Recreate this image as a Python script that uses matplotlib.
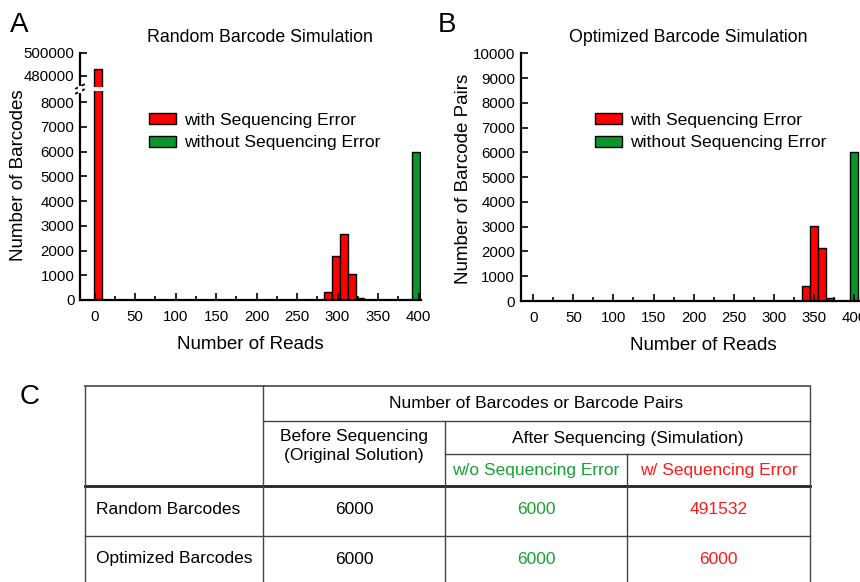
import numpy as np
import matplotlib
matplotlib.use("Agg")
import matplotlib.pyplot as plt

plt.rcParams['font.family'] = ['Liberation Sans', 'DejaVu Sans']

# ---- data ----
bin_w = 10
a_err_left = [-1, 283, 293, 303, 313, 323]
a_err_vals = [485532, 330, 1780, 2680, 1050, 90]
a_ok_left = [392]
a_ok_vals = [6000]

b_err_left = [335, 345, 355, 365]
b_err_vals = [605, 3030, 2140, 140]
b_ok_left = [395]
b_ok_vals = [6000]

row_names = ["Random Barcodes", "Optimized Barcodes"]
before_seq = [6000, 6000]
after_wo_err = [6000, 6000]
after_w_err = [491532, 6000]

RED = "#ff0000"
GREEN = "#0a952a"
W, H = 860, 582


def fx(px):
    return px / W


def fy(py):
    return 1 - py / H


def style_ax(ax, lw=1.6):
    for s in ["top", "right"]:
        ax.spines[s].set_visible(False)
    for s in ["left", "bottom"]:
        ax.spines[s].set_linewidth(lw)
    ax.tick_params(axis="both", direction="in", labelsize=10.8, width=1.2,
                   length=5, pad=4)
    ax.tick_params(axis="x", which="both", pad=7)
    ax.tick_params(axis="x", which="minor", direction="in", length=3, width=1.2)


fig = plt.figure(figsize=(W / 100, H / 100), dpi=100)

# ---------- panel A (broken y axis) ----------
axA = fig.add_axes([fx(80), fy(300), fx(421 - 80), (300 - 91) / H])
axA_top = fig.add_axes([fx(80), fy(87), fx(421 - 80), (87 - 53) / H])

for ax in (axA, axA_top):
    ax.bar(a_err_left, a_err_vals, width=bin_w, align="edge", color=RED,
           edgecolor="black", linewidth=1, label="with Sequencing Error")
    ax.bar(a_ok_left, a_ok_vals, width=bin_w, align="edge", color=GREEN,
           edgecolor="black", linewidth=1, label="without Sequencing Error")
    ax.set_xlim(-18, 403)
    style_ax(ax)

axA.set_ylim(0, 8450)
axA.set_yticks(np.arange(0, 8001, 1000))
axA.set_xticks(np.arange(0, 401, 50))
axA.set_xticks(np.arange(25, 401, 50), minor=True)

axA_top.set_ylim(470000, 500000)
axA_top.set_yticks([480000, 500000])
axA_top.spines["bottom"].set_visible(False)
axA_top.set_xticks([])
axA_top.tick_params(axis="x", which="both", bottom=False, labelbottom=False)

# break marks on the y axis
for yy in (86.5, 91.5):
    fig.add_artist(plt.Line2D([fx(76), fx(84)], [fy(yy + 2), fy(yy - 2)],
                              color="black", lw=1.3))
fig.add_artist(plt.Line2D([fx(80), fx(80)], [fy(87.5), fy(90.5)],
                          color="white", lw=3))

axA.set_xlabel("Number of Reads", fontsize=13.5, labelpad=9)
fig.text(fx(19), fy(175), "Number of Barcodes", rotation=90, fontsize=13.5,
         ha="center", va="center")
fig.text(fx(260), fy(38), "Random Barcode Simulation", fontsize=12.8,
         ha="center", va="center")
fig.text(fx(10), fy(25), "A", fontsize=20, ha="left", va="center")
axA.legend(loc="upper left", bbox_to_anchor=(fx(149), fy(113)),
           bbox_transform=fig.transFigure, frameon=False, fontsize=12.6,
           handlelength=1.55, handleheight=0.6, handletextpad=0.45,
           labelspacing=0.42, borderpad=0, borderaxespad=0)

# ---------- panel B ----------
axB = fig.add_axes([fx(520.7), fy(301), fx(886 - 520.7), (301 - 53.3) / H])
axB.bar(b_err_left, b_err_vals, width=bin_w, align="edge", color=RED,
        edgecolor="black", linewidth=1, label="with Sequencing Error")
axB.bar(b_ok_left, b_ok_vals, width=bin_w, align="edge", color=GREEN,
        edgecolor="black", linewidth=1, label="without Sequencing Error")
axB.set_xlim(-15.7, 440)
axB.set_ylim(0, 10000)
axB.set_yticks(np.arange(0, 10001, 1000))
axB.set_xticks(np.arange(0, 401, 50))
axB.set_xticks(np.arange(25, 401, 50), minor=True)
style_ax(axB)
axB.set_xlabel("Number of Reads", fontsize=13.5, labelpad=9)
fig.text(fx(463), fy(179), "Number of Barcode Pairs", rotation=90,
         fontsize=13.5, ha="center", va="center")
fig.text(fx(688), fy(38), "Optimized Barcode Simulation", fontsize=12.8,
         ha="center", va="center")
fig.text(fx(438), fy(25), "B", fontsize=20, ha="left", va="center")
axB.legend(loc="upper left", bbox_to_anchor=(fx(595), fy(113)),
           bbox_transform=fig.transFigure, frameon=False, fontsize=12.6,
           handlelength=1.55, handleheight=0.6, handletextpad=0.45,
           labelspacing=0.42, borderpad=0, borderaxespad=0)

# ---------- panel C (table) ----------
axT = fig.add_axes([0, 0, 1, 1], zorder=-1)
axT.set_xlim(0, W)
axT.set_ylim(H, 0)
axT.axis("off")
tfont = ['Liberation Sans Narrow', 'Liberation Sans', 'DejaVu Sans']
lc = "#444444"

x0, x1, x2, x3, x4 = 85, 263, 445, 627, 810
y0, y1, y2, y3, y4, yb = 386, 421, 454, 486, 536, 590
axT.plot([x0, x4], [y0, y0], color=lc, lw=1.2)
axT.plot([x1, x4], [y1, y1], color=lc, lw=1)
axT.plot([x2, x4], [y2, y2], color=lc, lw=1)
axT.plot([x0, x4], [y3, y3], color="#222222", lw=2)
axT.plot([x0, x4], [y4, y4], color=lc, lw=1)
for xv, ytop in [(x0, y0), (x1, y0), (x2, y1), (x3, y2), (x4, y0)]:
    axT.plot([xv, xv], [ytop, yb], color=lc, lw=1)

fs = 12.5
axT.text(20, 397, "C", fontsize=20, ha="left", va="center", family=tfont)
axT.text((x1 + x2) / 2, 404, "", fontsize=fs)
axT.text((x1 + x4) / 2, 404, "Number of Barcodes or Barcode Pairs",
         fontsize=fs, ha="center", va="center", family=tfont)
axT.text((x1 + x2) / 2, 446, "Before Sequencing\n(Original Solution)",
         fontsize=fs, ha="center", va="center", family=tfont, linespacing=1.3)
axT.text((x2 + x4) / 2, 439, "After Sequencing (Simulation)",
         fontsize=fs, ha="center", va="center", family=tfont)
axT.text((x2 + x3) / 2, 471, "w/o Sequencing Error", color="#17a035",
         fontsize=fs, ha="center", va="center", family=tfont)
axT.text((x3 + x4) / 2, 470, "w/ Sequencing Error", color="#ff1a1a",
         fontsize=fs, ha="center", va="center", family=tfont)

row_y = [509, 559]
for i, name in enumerate(row_names):
    yy = row_y[i]
    axT.text(96, yy, name, fontsize=fs, ha="left", va="center", family=tfont)
    axT.text((x1 + x2) / 2, yy, str(before_seq[i]), fontsize=fs,
             ha="center", va="center", family=tfont)
    axT.text((x2 + x3) / 2, yy, str(after_wo_err[i]), fontsize=fs,
             color="#17a035", ha="center", va="center", family=tfont)
    axT.text((x3 + x4) / 2, yy, str(after_w_err[i]), fontsize=fs,
             color="#ff1a1a", ha="center", va="center", family=tfont)

fig.savefig("out.png", dpi=100)
